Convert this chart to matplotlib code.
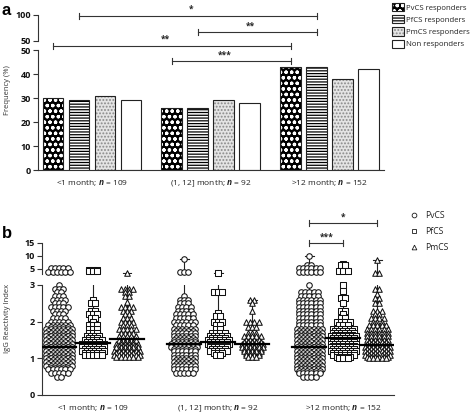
import matplotlib
matplotlib.use('Agg')
import matplotlib.pyplot as plt
from matplotlib.patches import Patch
from matplotlib.lines import Line2D
import numpy as np

plt.rcParams['font.family'] = ['Open Sans', 'DejaVu Sans']
plt.rcParams['mathtext.fontset'] = 'custom'
plt.rcParams['mathtext.it'] = 'Open Sans:italic:bold'
plt.rcParams['hatch.linewidth'] = 0.9

# ---- data ----
groups = ['<1 month; $n$ = 109', '(1, 12] month; $n$ = 92', '>12 month; $n$ = 152']
bar_labels = ['PvCS responders', 'PfCS responders', 'PmCS responders', 'Non responders']
freq_pv = [30, 26, 43]
freq_pf = [29, 26, 43]
freq_pm = [31, 29, 38]
freq_non = [29, 28, 42]

# brackets panel a: (group, bar), (group, bar), label
sig_a = [((0, 1), (2, 1), '*'), ((1, 1), (2, 1), '**'),
         ((0, 0), (2, 0), '**'), ((1, 0), (2, 0), '***')]

antigens = ['PvCS', 'PfCS', 'PmCS']
# (value, number of points at that value)
pv_lt1 = [(5.2, 5), (3.6, 6), (3.0, 1), (2.9, 3), (2.8, 2), (2.7, 3), (2.6, 4), (2.5, 3),
          (2.4, 5), (2.3, 4), (2.2, 3), (2.1, 4), (2.0, 5), (1.9, 6), (1.85, 5), (1.8, 7),
          (1.75, 6), (1.7, 7), (1.65, 6), (1.6, 7), (1.55, 6), (1.5, 7), (1.45, 6), (1.4, 7),
          (1.35, 6), (1.3, 7), (1.25, 6), (1.2, 7), (1.15, 6), (1.1, 7), (1.05, 6), (1.0, 7),
          (0.95, 6), (0.9, 7), (0.85, 6), (0.8, 7), (0.75, 5), (0.7, 6), (0.6, 5), (0.5, 2)]
pf_lt1 = [(4.6, 3), (4.0, 3), (2.6, 1), (2.5, 2), (2.3, 2), (2.2, 3), (2.1, 2), (2.0, 1),
          (1.9, 3), (1.8, 3), (1.7, 3), (1.6, 4), (1.55, 3), (1.5, 5), (1.45, 4), (1.4, 6),
          (1.35, 5), (1.3, 6), (1.25, 5), (1.2, 6), (1.15, 5), (1.1, 5)]
pm_lt1 = [(3.4, 1), (2.9, 4), (2.8, 2), (2.7, 2), (2.55, 1), (2.4, 4), (2.3, 3), (2.2, 2),
          (2.1, 3), (2.0, 4), (1.9, 3), (1.8, 5), (1.7, 4), (1.6, 5), (1.5, 5), (1.45, 4),
          (1.4, 6), (1.35, 5), (1.3, 6), (1.25, 5), (1.2, 7), (1.15, 6), (1.1, 7), (1.05, 6)]
pv_mid = [(9.0, 1), (3.6, 3), (2.7, 1), (2.6, 3), (2.5, 3), (2.4, 4), (2.3, 4), (2.2, 5),
          (2.1, 5), (2.0, 6), (1.9, 5), (1.8, 6), (1.75, 5), (1.7, 6), (1.6, 6), (1.55, 5),
          (1.5, 6), (1.45, 6), (1.4, 7), (1.35, 6), (1.3, 7), (1.25, 6), (1.2, 6), (1.1, 6),
          (1.0, 6), (0.95, 5), (0.9, 6), (0.85, 5), (0.8, 6), (0.7, 6), (0.6, 5)]
pf_mid = [(3.5, 1), (2.8, 3), (2.25, 1), (2.15, 2), (2.0, 3), (1.9, 2), (1.8, 2), (1.7, 4),
          (1.6, 5), (1.55, 4), (1.5, 6), (1.45, 5), (1.4, 6), (1.35, 5), (1.3, 5), (1.25, 4),
          (1.2, 5), (1.15, 3), (1.1, 2)]
pm_mid = [(2.6, 2), (2.5, 1), (2.3, 1), (2.0, 4), (1.85, 3), (1.7, 3), (1.6, 5), (1.5, 4),
          (1.45, 5), (1.4, 6), (1.35, 5), (1.3, 6), (1.25, 5), (1.2, 5), (1.15, 4), (1.1, 4),
          (1.05, 3)]
pv_gt12 = [(10.0, 1), (6.5, 2), (5.3, 6), (3.8, 6), (3.0, 1), (2.8, 5), (2.7, 5), (2.6, 6),
           (2.5, 6), (2.4, 6), (2.3, 6), (2.2, 6), (2.1, 6), (2.0, 6), (1.9, 6), (1.8, 7),
           (1.75, 6), (1.7, 7), (1.65, 6), (1.6, 7), (1.55, 6), (1.5, 7), (1.45, 6), (1.4, 7),
           (1.35, 6), (1.3, 7), (1.25, 6), (1.2, 7), (1.15, 6), (1.1, 7), (1.05, 6), (1.0, 7),
           (0.95, 6), (0.9, 7), (0.85, 6), (0.8, 7), (0.75, 6), (0.7, 7), (0.65, 6), (0.6, 6),
           (0.5, 4)]
pf_gt12 = [(6.8, 1), (6.3, 2), (4.0, 3), (3.0, 1), (2.85, 1), (2.65, 2), (2.5, 1), (2.3, 2),
           (2.2, 1), (2.1, 2), (2.0, 4), (1.9, 3), (1.8, 6), (1.75, 5), (1.7, 6), (1.65, 5),
           (1.6, 7), (1.55, 6), (1.5, 7), (1.45, 6), (1.4, 7), (1.35, 6), (1.3, 7), (1.25, 6),
           (1.2, 7), (1.15, 6), (1.1, 6), (1.05, 4), (1.0, 3)]
pm_gt12 = [(8.4, 1), (3.4, 2), (2.9, 2), (2.75, 1), (2.65, 2), (2.5, 2), (2.3, 3), (2.2, 2),
           (2.1, 4), (2.0, 3), (1.9, 5), (1.8, 6), (1.7, 6), (1.6, 6), (1.5, 6), (1.45, 5),
           (1.4, 6), (1.35, 5), (1.3, 7), (1.25, 6), (1.2, 7), (1.15, 6), (1.1, 7), (1.05, 6),
           (1.0, 5)]
med_pv = [1.31, 1.40, 1.31]
med_pf = [1.41, 1.45, 1.55]
med_pm = [1.52, 1.40, 1.37]

sig_b = [((2, 0), (2, 2), '*'), ((2, 0), (2, 1), '***')]

# ---- figure ----
W, H = 472, 413
fig = plt.figure(figsize=(4.72, 4.13), dpi=100)


def box(x0, y0, x1, y1):
    return [x0 / W, 1 - y1 / H, (x1 - x0) / W, (y1 - y0) / H]


def style_axis(ax, bottom=True):
    for s in ['top', 'right']:
        ax.spines[s].set_visible(False)
    ax.spines['bottom'].set_visible(bottom)
    for s in ['left', 'bottom']:
        ax.spines[s].set_color('#333333')
        ax.spines[s].set_linewidth(0.8)
    ax.tick_params(axis='y', length=3.5, width=0.8, color='#333333', pad=1.5,
                   labelsize=6.5, labelcolor='#111111')
    ax.tick_params(axis='x', length=0, pad=6, labelsize=6, labelcolor='#222222')
    for t in ax.get_yticklabels():
        t.set_fontweight('bold')


# ---------- panel a ----------
axa = fig.add_axes(box(38, 50, 384, 170))
axa_t = fig.add_axes(box(38, 15, 384, 41))
axa_t.patch.set_visible(False)

gap = 4.57
bw = 0.8
offs = [-1.5, -0.5, 0.5, 1.5]
series = [freq_pv, freq_pf, freq_pm, freq_non]
fills = [dict(facecolor='black', edgecolor='white', hatch='ooo'),
         dict(facecolor='white', edgecolor='black', hatch='------'),
         dict(facecolor='#e4e4e4', edgecolor='#8a8a8a', hatch='.....'),
         dict(facecolor='white', edgecolor='white', hatch=None)]
centers = np.arange(len(groups)) * gap

bar_x = []
for k, vals in enumerate(series):
    xs = centers + offs[k]
    bar_x.append(xs)
    axa.bar(xs, vals, bw, linewidth=0, **fills[k])
    axa.bar(xs, vals, bw, facecolor='none', edgecolor='#222222', linewidth=0.8)

axa.set_xlim(-2.08, 11.23)
axa.set_ylim(0, 50)
axa.set_yticks([0, 10, 20, 30, 40, 50])
axa.set_xticks(centers)
axa.set_xticklabels(groups)
style_axis(axa)

axa_t.set_xlim(-2.08, 11.23)
axa_t.set_ylim(50, 100)
axa_t.set_yticks([50, 100])
axa_t.set_xticks([])
style_axis(axa_t, bottom=False)

levels_a = [64.2, 57.5, 51.7, 45.4]
for (a, b, lab), yl in zip(sig_a, levels_a):
    x1 = bar_x[a[1]][a[0]]
    x2 = bar_x[b[1]][b[0]]
    axa.plot([x1, x2], [yl, yl], color='#333333', lw=0.8, clip_on=False)
    for xx in (x1, x2):
        axa.plot([xx, xx], [yl - 1.2, yl + 1.2], color='#333333', lw=0.8, clip_on=False)
    axa.text((x1 + x2) / 2 - 0.25, yl + 1.6, lab, ha='center', va='baseline',
             fontsize=6, fontweight='bold', color='#222222', clip_on=False)

handles = []
for k in range(4):
    fill = Patch(**fills[k], linewidth=0)
    edge = Patch(facecolor='none', edgecolor='#222222', linewidth=0.8)
    handles.append((fill, edge))
fig.legend(handles, bar_labels, loc='upper left', bbox_to_anchor=(392 / W, 1 - 3 / H),
           frameon=False, fontsize=5.6, handlelength=1.5, handleheight=1.25,
           handletextpad=0.25, labelspacing=0.45, borderpad=0, borderaxespad=0,
           labelcolor='#222222')

fig.text(8 / W, 1 - 90 / H, 'Frequency (%)', rotation=90, ha='center', va='center',
         fontsize=5.5, color='#333333')
fig.text(2 / W, 1 - 3 / H, 'a', ha='left', va='top', fontsize=12, fontweight='bold',
         family='Liberation Sans')

# ---------- panel b ----------
axb = fig.add_axes(box(42, 285, 394, 395))
axb_t = fig.add_axes(box(42, 243, 394, 274))
axb_t.patch.set_visible(False)

columns = [[pv_lt1, pf_lt1, pm_lt1], [pv_mid, pf_mid, pm_mid], [pv_gt12, pf_gt12, pm_gt12]]
medians = [med_pv, med_pf, med_pm]
markers = ['o', 's', '^']
msize = [16, 13, 16]
gap_b = 3.68
step = 0.125
xlim_b = (-1.5, 8.85)

col_x = {}
for g in range(3):
    for c in range(3):
        x0 = g * gap_b + (c - 1)
        col_x[(g, c)] = x0
        xs, ys = [], []
        for v, n in columns[g][c]:
            for i in range(n):
                xs.append(x0 + (i - (n - 1) / 2) * step)
                ys.append(v)
        xs = np.array(xs)
        ys = np.array(ys)
        lo, hi = ys.min(), ys.max()
        for ax, sel in [(axb, ys <= 3.0), (axb_t, ys > 3.0)]:
            ax.plot([x0, x0], [lo, hi], color='#222222', lw=0.8, zorder=1)
            for yy in (lo, hi):
                ax.plot([x0 - 0.13, x0 + 0.13], [yy, yy], color='#222222', lw=0.8, zorder=1)
            ax.scatter(xs[sel], ys[sel], s=msize[c], marker=markers[c], facecolor='white',
                       edgecolor='#111111', linewidth=0.75, zorder=2, clip_on=False)
        axb.plot([x0 - 0.5, x0 + 0.5], [medians[c][g]] * 2, color='black', lw=1.6, zorder=3)

axb.set_xlim(*xlim_b)
axb.set_ylim(0, 3)
axb.set_yticks([0, 1, 2, 3])
axb.set_xticks(np.arange(3) * gap_b)
axb.set_xticklabels(groups)
style_axis(axb)

axb_t.set_xlim(*xlim_b)
axb_t.set_ylim(3, 15)
axb_t.set_yticks([5, 10, 15])
axb_t.set_xticks([])
style_axis(axb_t, bottom=False)

levels_b = [22.7, 15.0]
for (a, b, lab), yl in zip(sig_b, levels_b):
    x1 = col_x[a]
    x2 = col_x[b]
    axb_t.plot([x1, x2], [yl, yl], color='#333333', lw=0.8, clip_on=False)
    for xx in (x1, x2):
        axb_t.plot([xx, xx], [yl - 1.1, yl + 1.1], color='#333333', lw=0.8, clip_on=False)
    axb_t.text((x1 + x2) / 2, yl + 1.5, lab, ha='center', va='baseline', fontsize=6,
               fontweight='bold', color='#222222', clip_on=False)

mh = [Line2D([], [], marker=markers[c], ls='none', mfc='white', mec='#1a1a1a',
             mew=0.6, ms=3.4) for c in range(3)]
fig.legend(mh, antigens, loc='upper left', bbox_to_anchor=(410 / W, 1 - 211 / H),
           frameon=False, fontsize=6.2, handlelength=1.0, handletextpad=0.8,
           labelspacing=0.8, borderpad=0, borderaxespad=0, labelcolor='#222222')

fig.text(8 / W, 1 - 318 / H, 'IgG Reactivity Index', rotation=90, ha='center',
         va='center', fontsize=5.5, color='#333333')
fig.text(2 / W, 1 - 226 / H, 'b', ha='left', va='top', fontsize=12, fontweight='bold',
         family='Liberation Sans')

fig.savefig('out.png', dpi=100)
